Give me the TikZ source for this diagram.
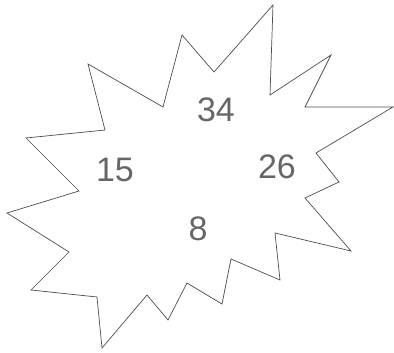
\documentclass[tikz,border=0pt]{standalone}
\usepackage{fontspec}
\setmainfont{Liberation Sans}
\begin{document}
\begin{tikzpicture}[x=1pt,y=-1pt,
  burst/.style={draw=black!70,line width=0.7pt,line join=miter},
  num/.style={text=black!60,font=\fontsize{34}{40}\selectfont,inner sep=0pt,anchor=center}]
\useasboundingbox (0,0) rectangle (394,353);
\draw[burst] (273,5) -- (270,95) -- (331,55) -- (305,107) -- (393,107) -- (316,153)
  -- (339,182) -- (305,198) -- (351,251) -- (275,233) -- (280,280) -- (231,259)
  -- (222,304) -- (187,283) -- (168,320) -- (147,295) -- (102,348) -- (97,297)
  -- (31,290) -- (69,252) -- (7,213) -- (79,191) -- (26,138) -- (105,130)
  -- (88,64) -- (163,107) -- (182,35) -- (214,72) -- cycle;
\node[num] (n34) at (216,110) {34};
\node[num] (n15) at (115,170) {15};
\node[num] (n26) at (277,167) {26};
\node[num] (n8) at (198,229) {8};
\end{tikzpicture}
\end{document}
